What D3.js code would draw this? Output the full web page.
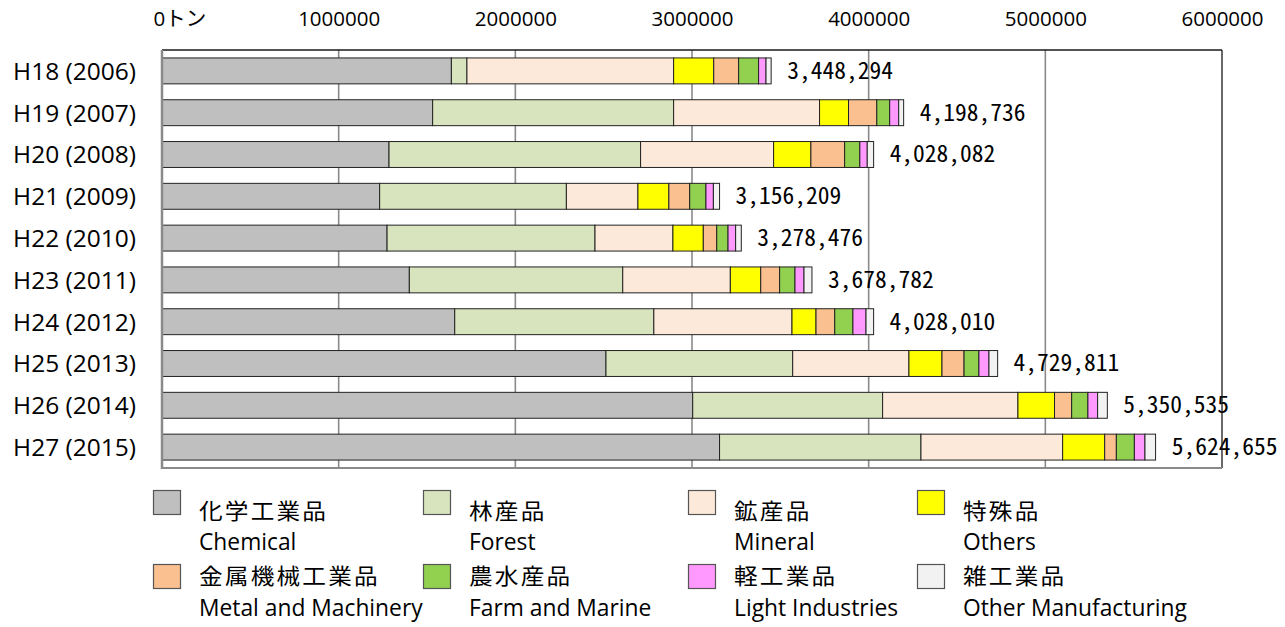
<!DOCTYPE html>
<html>
<head>
<meta charset="utf-8">
<script src="https://cdn.jsdelivr.net/npm/d3@7"></script>
<style>
  body { margin: 0; background: #fff; }
  svg { display: block; background: #fff; }
  .cat { font-family: "Open Sans", "Noto Sans", sans-serif; font-size: 24.5px; fill: #000; }
  .xaxis text { font-family: "Open Sans", "Noto Sans CJK JP", sans-serif; font-size: 20.5px; fill: #000; }
  .val { font-family: "Noto Sans CJK JP", sans-serif; font-size: 23.5px; fill: #000; font-feature-settings: "hwid" 1; }
  .lgja { font-family: "Noto Sans CJK JP", sans-serif; font-size: 21.5px; letter-spacing: 2px; fill: #000; }
  .lgen { font-family: "Open Sans", "Noto Sans", sans-serif; font-size: 22.8px; fill: #000; }
</style>
</head>
<body>
<svg id="chart" width="1285" height="627"></svg>
<script>
// ---------------- data ----------------
const categories = ["H18 (2006)", "H19 (2007)", "H20 (2008)", "H21 (2009)", "H22 (2010)",
                    "H23 (2011)", "H24 (2012)", "H25 (2013)", "H26 (2014)", "H27 (2015)"];
const chemical  = [1638000, 1532000, 1285000, 1232000, 1274000, 1400000, 1657000, 2513000, 3004000, 3156000];
const forest    = [  88000, 1364000, 1424000, 1057000, 1177000, 1208000, 1127000, 1057000, 1075000, 1140000];
const mineral   = [1170000,  826000,  753000,  405000,  441000,  609000,  782000,  658000,  766000,  802000];
const others    = [ 227000,  164000,  211000,  175000,  172000,  172000,  136000,  187000,  207000,  238000];
const metal     = [ 141000,  160000,  191000,  118000,   76000,  107000,  106000,  125000,   97000,   66000];
const farm      = [ 113000,   73000,   86000,   92000,   64000,   87000,  103000,   84000,   92000,  102000];
const light     = [  42000,   51000,   42000,   42000,   43000,   51000,   74000,   57000,   55000,   60000];
const otherMfg  = [  29000,   28000,   36000,   35000,   32000,   45000,   43000,   49000,   55000,   60000];
const totals    = [3448294, 4198736, 4028082, 3156209, 3278476, 3678782, 4028010, 4729811, 5350535, 5624655];
const tickValues = [0, 1000000, 2000000, 3000000, 4000000, 5000000, 6000000];
const seriesKeys = ["chemical", "forest", "mineral", "others", "metal", "farm", "light", "otherMfg"];
const legendJa = ["化学工業品", "林産品", "鉱産品", "特殊品", "金属機械工業品", "農水産品", "軽工業品", "雑工業品"];
const legendEn = ["Chemical", "Forest", "Mineral", "Others", "Metal and Machinery", "Farm and Marine", "Light Industries", "Other Manufacturing"];
const colors   = ["#bfbfbf", "#d7e4bd", "#fde9d9", "#ffff00", "#fac090", "#92d050", "#ff99ff", "#f2f2f2"];

// ---------------- layout ----------------
const plot = { left: 162, right: 1222, top: 50, bottom: 468 };
const svg = d3.select("#chart");

const seriesArrays = { chemical, forest, mineral, others, metal, farm, light, otherMfg };
const rows = categories.map((c, i) => {
  const r = { cat: c };
  seriesKeys.forEach(k => r[k] = seriesArrays[k][i]);
  return r;
});
const stacked = d3.stack().keys(seriesKeys)(rows);

const x = d3.scaleLinear().domain([0, 6000000]).range([plot.left, plot.right]);
const y = d3.scaleBand().domain(categories).range([plot.top, plot.bottom])
  .paddingInner(0.38).paddingOuter(0.19);
const color = d3.scaleOrdinal().domain(seriesKeys).range(colors);

// gridlines
svg.append("g").selectAll("line")
  .data(tickValues.filter(t => t > 0 && t < 6000000))
  .join("line")
  .attr("x1", d => x(d)).attr("x2", d => x(d))
  .attr("y1", plot.top).attr("y2", plot.bottom)
  .attr("stroke", "#8a8a8a").attr("stroke-width", 1.6);

// top axis labels
const xAxis = d3.axisTop(x).tickValues(tickValues).tickSize(0).tickPadding(24)
  .tickFormat(d => d === 0 ? "0トン" : String(d));
const ax = svg.append("g").attr("class", "xaxis")
  .attr("transform", `translate(0,${plot.top})`).call(xAxis);
ax.select(".domain").remove();
ax.selectAll(".tick text").attr("font-family", null).attr("font-size", null)
  .filter(d => d === 0).attr("text-anchor", "start").attr("dx", -9);

// bars
svg.append("g").selectAll("g")
  .data(stacked)
  .join("g")
  .attr("fill", d => color(d.key))
  .selectAll("rect")
  .data(d => d)
  .join("rect")
  .attr("x", d => x(d[0]))
  .attr("y", d => y(d.data.cat))
  .attr("width", d => x(d[1]) - x(d[0]))
  .attr("height", y.bandwidth())
  .attr("stroke", "#222")
  .attr("stroke-width", 1);

// category labels
svg.append("g").selectAll("text")
  .data(categories)
  .join("text")
  .attr("class", "cat")
  .attr("x", 136)
  .attr("y", d => y(d) + y.bandwidth() / 2 + 8.8)
  .attr("text-anchor", "end")
  .text(d => d);

// total labels
const fmt = d3.format(",");
svg.append("g").selectAll("text")
  .data(totals)
  .join("text")
  .attr("class", "val")
  .attr("x", d => x(d) + 16)
  .attr("y", (d, i) => y(categories[i]) + y.bandwidth() / 2 + 7.8)
  .text(d => fmt(d));

// frame
const fr = svg.append("g");
fr.append("line").attr("x1", plot.left).attr("x2", plot.right).attr("y1", plot.top).attr("y2", plot.top)
  .attr("stroke", "#1a1a1a").attr("stroke-width", 1.3);
fr.append("line").attr("x1", plot.right).attr("x2", plot.right).attr("y1", plot.top).attr("y2", plot.bottom)
  .attr("stroke", "#1a1a1a").attr("stroke-width", 1.3);
fr.append("line").attr("x1", plot.left).attr("x2", plot.right).attr("y1", plot.bottom).attr("y2", plot.bottom)
  .attr("stroke", "#8a8a8a").attr("stroke-width", 2);
fr.append("line").attr("x1", plot.left).attr("x2", plot.left).attr("y1", plot.top).attr("y2", plot.bottom + 1)
  .attr("stroke", "#8a8a8a").attr("stroke-width", 2.5);

// legend
const colX = [153, 423, 688, 917];
const swY = [490, 564];
const jaY = [519, 584];
const enY = [550, 616];
const lg = svg.append("g").selectAll("g")
  .data(seriesKeys)
  .join("g");
lg.append("rect")
  .attr("x", (d, i) => colX[i % 4] + 0.5)
  .attr("y", (d, i) => swY[Math.floor(i / 4)] + 0.5)
  .attr("width", 27).attr("height", 24)
  .attr("fill", d => color(d))
  .attr("stroke", "#555").attr("stroke-width", 1.2);
lg.append("text")
  .attr("class", "lgja")
  .attr("transform", (d, i) => `translate(${colX[i % 4] + 46},${jaY[Math.floor(i / 4)]}) scale(1.1,1)`)
  .text((d, i) => legendJa[i]);
lg.append("text")
  .attr("class", "lgen")
  .attr("x", (d, i) => colX[i % 4] + 46)
  .attr("y", (d, i) => enY[Math.floor(i / 4)])
  .text((d, i) => legendEn[i]);
</script>
</body>
</html>
